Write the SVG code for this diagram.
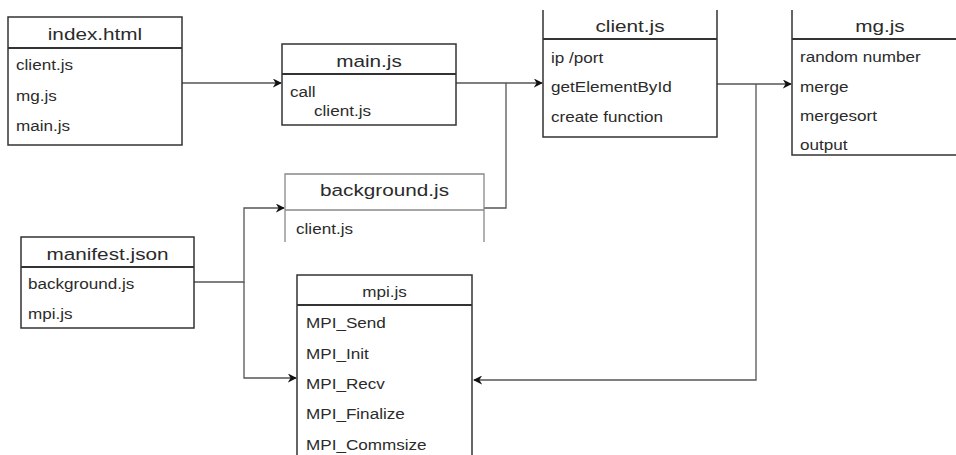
<svg xmlns="http://www.w3.org/2000/svg" width="956" height="455" viewBox="0 0 956 455">
<style>
text{font-family:"Liberation Sans",Arial,sans-serif;fill:#2b2b2b;transform-box:fill-box}
.ti{font-size:17px;text-anchor:middle;transform-origin:50% 50%;transform:scaleX(1.22)}
.ts{font-size:15px;text-anchor:middle;transform-origin:50% 50%;transform:scaleX(1.14)}
.it{font-size:15px;transform-origin:0 50%;transform:scaleX(1.14)}
.box{fill:#fff;stroke:#333;stroke-width:1.5}
.div{stroke:#333;stroke-width:2;fill:none}
.lbox{fill:none;stroke:#888;stroke-width:1.3}
.ldiv{stroke:#888;stroke-width:1.5}
.con{fill:none;stroke:#555;stroke-width:1.3}
</style>
<defs>
<marker id="ar" viewBox="0 0 10 10" refX="9" refY="5" markerWidth="9" markerHeight="9" markerUnits="userSpaceOnUse" orient="auto">
<path d="M0,0 L10,5 L0,10 L3,5 z" fill="#111"/>
</marker>
</defs>
<g id="connectors">
<path class="con" d="M182,83 H281" marker-end="url(#ar)"/>
<path class="con" d="M456,83 H542" marker-end="url(#ar)"/>
<path class="con" d="M484,208 H506 V83"/>
<path class="con" d="M717,84 H791" marker-end="url(#ar)"/>
<path class="con" d="M756,84 V380 H474" marker-end="url(#ar)"/>
<path class="con" d="M194,282 H244 V208 H284" marker-end="url(#ar)"/>
<path class="con" d="M244,282 V378 H296" marker-end="url(#ar)"/>
</g>
<g id="index-html">
<rect class="box" x="8" y="17" width="174" height="128"/>
<line class="div" x1="8" y1="48" x2="182" y2="48"/>
<text class="ti" x="95" y="40">index.html</text>
<text class="it" x="16" y="70">client.js</text>
<text class="it" x="16" y="101">mg.js</text>
<text class="it" x="16" y="131">main.js</text>
</g>
<g id="main-js">
<rect class="box" x="282" y="44" width="174" height="81"/>
<line class="div" x1="282" y1="74" x2="456" y2="74"/>
<text class="ti" x="369" y="67">main.js</text>
<text class="it" x="290" y="97">call</text>
<text class="it" x="314" y="116">client.js</text>
</g>
<g id="client-js">
<path class="box" d="M543,10 V137 H717 V10"/>
<line class="div" x1="543" y1="39" x2="717" y2="39"/>
<text class="ti" x="630" y="32">client.js</text>
<text class="it" x="551" y="63">ip /port</text>
<text class="it" x="551" y="92">getElementById</text>
<text class="it" x="551" y="122">create function</text>
</g>
<g id="mg-js">
<path class="box" d="M792,10 V155 H960"/>
<line class="div" x1="792" y1="39" x2="960" y2="39"/>
<text class="ti" x="880" y="32">mg.js</text>
<text class="it" x="800" y="62">random number</text>
<text class="it" x="800" y="92">merge</text>
<text class="it" x="800" y="121">mergesort</text>
<text class="it" x="800" y="150">output</text>
</g>
<g id="background-js">
<rect x="285" y="174" width="199" height="70" fill="#fff"/>
<path class="lbox" d="M285,242 V174 H484 V242"/>
<line class="ldiv" x1="285" y1="210" x2="484" y2="210"/>
<text class="ti" x="384.5" y="196">background.js</text>
<text class="it" x="296" y="234">client.js</text>
</g>
<g id="manifest-json">
<rect class="box" x="21" y="237" width="173" height="91"/>
<line class="div" x1="21" y1="267" x2="194" y2="267"/>
<text class="ti" x="107.5" y="260">manifest.json</text>
<text class="it" x="28" y="289">background.js</text>
<text class="it" x="28" y="319">mpi.js</text>
</g>
<g id="mpi-js">
<path class="box" d="M297,460 V275 H472 V460"/>
<line class="div" x1="297" y1="305" x2="472" y2="305"/>
<text class="ts" x="384.5" y="297">mpi.js</text>
<text class="it" x="306" y="328">MPI_Send</text>
<text class="it" x="306" y="359">MPI_Init</text>
<text class="it" x="306" y="389">MPI_Recv</text>
<text class="it" x="306" y="419">MPI_Finalize</text>
<text class="it" x="306" y="450">MPI_Commsize</text>
</g>
</svg>
